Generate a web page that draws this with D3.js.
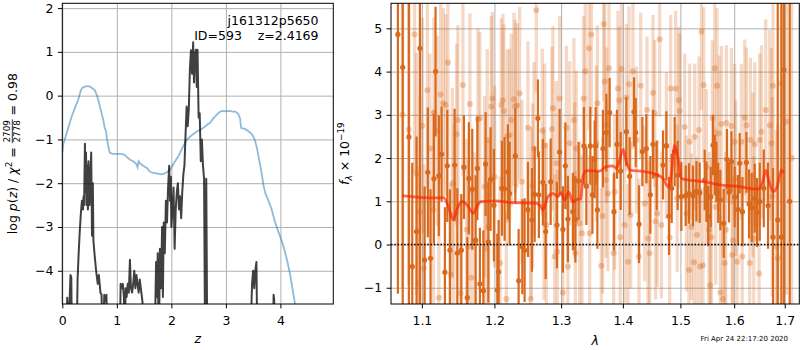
<!DOCTYPE html>
<html>
<head>
<meta charset="utf-8">
<script src="https://cdn.jsdelivr.net/npm/d3@7"></script>
<style>
  body { margin: 0; background: #fff; }
  svg { font-family: "DejaVu Sans", sans-serif; }
  text { white-space: pre; }
</style>
</head>
<body>
<script>
// ---------------- DATA ----------------
// left panel: redshift probability
const pzZ   = [0.00,0.07,0.09,0.12,0.15,0.165,0.18,0.26,0.28,0.30,0.32,0.34,0.36,0.38,0.39,0.40,0.415,0.425,0.435,0.445,0.46,0.47,0.48,0.50,0.515,0.53,0.545,0.56,0.57,0.59,0.62,0.65,0.67,0.70,0.72,0.74,0.77,0.79,0.81,0.83,
               1.05,1.07,1.09,1.11,1.13,1.145,1.16,1.18,1.20,1.22,1.24,1.26,1.28,1.30,1.32,1.34,1.36,1.38,1.40,1.42,1.45,1.47,1.49,
               1.69,1.72,1.735,1.75,1.77,1.79,1.81,1.83,1.845,1.86,1.88,1.90,1.92,1.94,1.96,1.975,1.99,2.00,2.02,2.04,2.06,2.08,2.10,2.12,2.14,2.16,2.18,2.20,2.22,2.24,2.26,2.28,2.30,2.32,2.34,2.36,2.38,2.40,2.415,2.43,2.45,2.465,2.48,2.50,2.52,2.54,2.56,2.58,2.60,2.62,2.64,2.66,
               3.44,3.48,3.50,3.52,3.54,3.56,3.58,3.86,3.875,3.885,3.90,4.97];
const pzLog = [-6,-6,-4.62,-5.2,-4.1,-4.15,-6,-6,-4.2,-3.6,-3.1,-2.7,-2.4,-2.6,-2.3,-2.5,-1.1,-2.2,-1.3,-2.5,-1.6,-2.6,-1.5,-2.5,-1.8,-1.3,-3.2,-2.0,-3.3,-3.6,-4.0,-4.3,-4.1,-4.5,-4.55,-6,-4.55,-4.7,-4.55,-6,
               -6,-4.3,-4.4,-4.3,-4.6,-6,-4.4,-4.6,-4.3,-4.5,-3.75,-4.4,-4.5,-4.3,-4.0,-4.4,-4.1,-4.3,-4.5,-4.2,-4.5,-4.7,-6,
               -6,-3.8,-4.6,-3.6,-6,-3.5,-4.4,-3.0,-4.6,-2.9,-3.6,-2.4,-2.9,-2.1,-1.6,-2.4,-1.85,-3.0,-2.6,-2.1,-3.5,-2.6,-2.2,-2.0,-2.6,-2.3,-2.8,-2.2,-1.8,-1.6,-0.9,-0.25,-0.7,-0.3,0.6,1.04,0.5,1.22,0.3,0.9,1.05,0.2,1.05,-0.5,-0.4,-1.5,-1.0,-1.6,-1.9,-6,-1.9,-6,
               -6,-4.3,-4.0,-4.4,-4.0,-3.8,-6,-6,-4.55,-4.65,-6,-6];
const chiZ   = [0.00,0.02,0.08,0.17,0.24,0.29,0.33,0.36,0.42,0.50,0.55,0.60,0.65,0.70,0.75,0.78,0.80,0.82,0.85,0.87,0.92,1.00,1.10,1.15,1.20,1.25,1.30,1.35,1.38,1.40,1.43,1.48,1.55,1.60,1.65,1.75,1.80,1.87,1.93,1.98,2.03,2.07,2.12,2.16,2.22,2.28,2.33,2.40,2.47,2.53,2.60,2.66,2.71,2.77,2.83,2.88,2.93,3.00,3.06,3.11,3.18,3.23,3.26,3.28,3.35,3.42,3.47,3.51,3.54,3.57,3.60,3.63,3.66,3.69,3.73,3.78,3.84,3.90,3.96,4.02,4.08,4.13,4.18,4.22,4.26,4.30,4.35];
const chiVal = [-1.30,-1.10,-0.86,-0.48,-0.25,-0.10,0.08,0.17,0.21,0.21,0.17,0.12,-0.05,-0.30,-0.55,-0.75,-0.80,-1.00,-1.20,-1.30,-1.33,-1.33,-1.33,-1.36,-1.42,-1.47,-1.50,-1.55,-1.64,-1.50,-1.55,-1.60,-1.65,-1.73,-1.76,-1.78,-1.80,-1.78,-1.74,-1.69,-1.58,-1.50,-1.40,-1.31,-1.15,-1.01,-0.95,-0.88,-0.82,-0.78,-0.72,-0.66,-0.62,-0.52,-0.44,-0.38,-0.35,-0.36,-0.35,-0.36,-0.37,-0.42,-0.52,-0.74,-0.76,-0.82,-0.87,-0.95,-1.05,-1.20,-1.40,-1.60,-1.80,-2.05,-2.25,-2.40,-2.60,-2.88,-3.10,-3.30,-3.55,-3.80,-4.10,-4.40,-4.70,-5.00,-5.50];
const zTicks = [0,1,2,3,4];
const pTicks = [-4,-3,-2,-1,0,1,2];

// right panel: spectrum
const darkWave = [1.0688,1.0750,1.0830,1.0874,1.0930,1.0974,1.1036,1.1079,1.1115,1.1160,1.1182,1.1226,1.1263,1.1308,1.1341,1.1376,1.1441,1.1478,1.1533,1.1569,1.1616,1.1638,1.1686,1.1733,1.1757,1.1793,1.1842,1.1874,1.1913,1.1945,1.1993,
  1.2042,1.2061,1.2109,1.2148,1.2196,1.2221,1.2305,1.2354,1.2409,1.2443,1.2493,1.2553,1.2594,1.2643,1.2658,1.2719,1.2761,1.2838,1.2935,1.2977,1.3028,1.3066,1.3106,1.3185,1.3224,1.3276,1.3361,1.3400,1.3464,1.3497,1.3534,1.3550,1.3578,
  1.3669,1.3725,1.3779,1.3851,1.3901,1.3963,1.4058,1.4114,1.4188,1.4217,1.4273,1.4331,1.4400,1.4469,1.4515,1.4580,1.4690,1.4750,1.4796,1.4844,1.4897,1.4951,1.5017,1.5096,1.5155,1.5228,1.5291,1.5351,
  1.5444,1.5476,1.5509,1.5556,1.5599,1.5631,1.5662,1.5696,1.5737,1.5800,1.5863,1.5901,1.5947,1.6010,1.6074,1.6106,1.6159,1.6237,1.6287,1.6340,1.6399,1.6444,1.6498,1.6578,1.6663,1.6763,1.6858,1.6933,1.6985,1.7102];
const darkFlux = [4.86,4.10,2.49,-0.51,0.30,4.54,-0.36,1.67,-0.32,1.52,4.00,1.59,2.09,-0.64,1.82,-0.13,1.84,-0.20,-0.13,1.79,-1.23,1.53,1.28,0.10,1.76,-0.91,-1.07,1.86,0.06,1.51,0.91,
  -1.05,-0.63,1.30,1.29,1.68,1.18,2.05,-0.84,-0.05,-0.13,0.81,0.57,1.16,2.92,1.15,1.44,0.30,1.45,0.45,2.14,0.35,1.82,0.59,0.76,0.58,1.47,2.28,1.35,2.28,1.15,1.97,2.28,0.80,
  2.22,2.59,3.05,0.76,2.32,1.70,2.61,1.58,3.07,2.59,0.47,2.15,2.22,1.15,2.32,1.60,1.84,2.28,0.66,1.30,2.15,1.60,1.11,1.13,1.18,1.13,1.23,1.20,
  1.49,1.22,0.66,1.10,2.30,1.84,1.68,1.20,1.03,0.49,1.97,1.21,1.92,1.10,0.81,1.88,0.76,1.90,0.94,0.85,1.07,0.74,0.99,1.30,0.90,0.17,0.57,0.17,4.04,1.00];
const darkErr  = [6.0,6.0,5.0,2.4,2.2,6.0,1.7,1.5,1.6,1.5,1.5,1.4,1.1,1.5,1.3,1.4,1.3,1.5,1.3,1.2,1.4,1.3,1.4,1.5,1.2,1.3,1.4,1.2,1.4,1.2,1.3,
  1.3,1.2,1.1,1.2,1.1,1.2,1.1,1.2,1.1,1.2,1.1,1.2,1.1,0.9,1.0,1.0,1.1,1.0,1.0,1.0,1.0,1.0,1.0,0.9,1.0,0.9,0.9,0.9,0.9,0.9,0.9,0.9,0.9,
  0.9,0.9,0.8,0.9,0.8,0.9,0.8,0.9,0.8,0.8,0.9,0.8,0.8,0.9,0.8,0.8,0.8,0.8,0.9,0.8,0.8,0.8,0.8,0.7,0.7,0.7,0.7,0.7,
  0.7,0.7,0.7,0.7,0.7,0.7,0.7,0.7,0.7,0.8,0.7,0.7,0.7,0.7,0.8,0.7,0.8,0.7,0.8,0.8,0.8,0.8,0.9,0.9,1.0,1.6,6.0,6.0,6.0,8.0];

const lightWave = [1.0748,1.0829,1.0904,1.0930,1.0948,1.0974,1.1006,1.1027,1.1072,1.1106,1.1152,1.1160,1.1205,1.1227,1.1250,1.1286,1.1318,1.1349,1.1386,1.1409,1.1431,1.1468,1.1486,1.1523,1.1555,1.1606,1.1627,1.1652,1.1672,1.1719,1.1765,1.1793,1.1860,1.1874,1.1898,1.1917,1.1955,1.1970,1.2003,
  1.2082,1.2100,1.2123,1.2138,1.2173,1.2187,1.2221,1.2246,1.2285,1.2305,1.2332,1.2369,1.2403,1.2493,1.2533,1.2544,1.2563,1.2583,1.2619,1.2710,1.2735,1.2746,1.2771,1.2858,1.2873,1.2900,1.2926,1.2941,1.2977,1.3028,1.3082,1.3106,1.3133,1.3201,1.3213,1.3225,1.3239,1.3292,1.3329,1.3356,1.3381,1.3442,1.3453,1.3481,1.3562,1.3578,
  1.3643,1.3664,1.3681,1.3697,1.3717,1.3730,1.3751,1.3768,1.3846,1.3863,1.3918,1.3938,1.3954,1.3975,1.4030,1.4059,1.4085,1.4102,1.4131,1.4170,1.4229,1.4273,1.4302,1.4371,1.4411,1.4428,1.4457,1.4515,1.4545,1.4559,1.4588,1.4632,1.4662,1.4750,1.4808,1.4826,1.4915,1.4942,1.4969,1.4987,
  1.5078,1.5109,1.5155,1.5168,1.5199,1.5247,1.5260,1.5302,1.5338,1.5360,1.5383,1.5412,1.5425,1.5475,1.5524,1.5546,1.5569,1.5587,1.5631,1.5649,1.5674,1.5711,1.5737,1.5756,1.5781,1.5819,1.5838,1.5851,1.5947,1.5962,1.5977,1.6010,1.6029,1.6058,1.6139,1.6155,1.6204,1.6237,
  1.6301,1.6315,1.6366,1.6380,1.6399,1.6484,1.6498,1.6532,1.6617,1.6697,1.6731,1.6747,1.6763,1.6832,1.6858,1.6933,1.7035,1.7143];
const lightFlux = [3.00,2.66,4.86,1.63,-0.90,0.75,2.75,-0.55,3.57,2.22,0.80,3.06,2.63,-1.23,3.47,3.27,3.23,4.21,-0.69,1.42,0.68,2.55,2.88,-1.13,3.69,0.34,-0.05,3.25,-0.77,0.03,2.90,2.92,1.34,-0.09,2.42,0.41,3.19,3.38,1.57,
  -0.43,3.23,3.34,3.09,-1.26,2.51,2.53,2.88,3.36,3.20,3.22,3.50,1.45,2.70,-1.26,0.72,1.36,2.22,5.42,2.63,0.72,2.29,0.45,2.67,3.15,-0.28,1.88,-0.17,3.38,-1.11,2.70,-0.51,2.34,2.88,1.49,-0.20,2.22,0.49,0.26,3.38,4.01,4.54,0.26,4.86,2.34,3.27,
  -0.49,0.66,5.10,3.77,1.49,2.76,1.18,4.08,-0.20,1.22,3.61,3.34,0.17,4.06,0.45,3.40,-0.40,3.71,0.68,4.01,2.42,-0.28,3.67,0.95,3.11,0.14,-0.20,3.51,3.03,0.53,0.72,4.75,0.45,2.29,0.16,3.61,3.61,1.07,3.34,3.09,
  2.72,0.72,-0.59,2.38,0.41,-0.41,2.49,0.22,2.65,-0.51,4.92,-0.48,3.69,1.80,0.34,-0.94,0.17,2.92,4.08,0.87,3.67,2.57,-1.11,2.79,-1.26,-0.43,0.34,2.81,2.74,-0.24,0.10,2.38,1.53,-0.40,2.38,-0.28,2.94,2.76,
  -0.43,2.42,1.61,0.14,2.32,-0.67,2.42,2.61,3.11,2.76,2.34,1.11,3.67,-0.05,-0.32,3.73,2.84,2.00];
const lightErr = [4.0,3.6,3.2,2.8,2.7,2.7,2.5,2.4,2.3,2.2,2.3,2.2,2.2,2.2,2.1,2.2,2.1,2.2,2.1,2.2,2.1,2.1,2.2,2.1,2.1,2.1,2.0,2.1,2.0,2.1,2.1,2.0,2.1,2.0,2.1,2.0,2.1,2.0,2.1,
  2.0,2.0,2.0,2.0,2.0,2.0,2.0,2.0,2.0,2.0,1.9,2.0,1.9,2.0,1.9,2.0,1.9,2.0,1.9,1.9,2.0,1.9,1.9,1.9,1.9,1.9,1.9,1.9,1.9,1.9,1.9,1.9,1.9,1.9,1.8,1.9,1.8,1.9,1.8,1.9,1.8,1.9,1.8,1.9,1.8,1.8,
  1.8,1.8,1.8,1.8,1.8,1.8,1.8,1.8,1.8,1.8,1.8,1.7,1.8,1.8,1.8,1.7,1.8,1.8,1.7,1.8,1.7,1.8,1.7,1.8,1.7,1.8,1.7,1.8,1.7,1.8,1.7,1.8,1.7,1.7,1.8,1.7,1.8,1.7,1.7,1.8,
  1.7,1.8,1.7,1.8,1.7,1.8,1.7,1.8,1.7,1.8,1.8,1.8,1.8,1.8,1.8,1.8,1.8,1.8,1.8,1.8,1.8,1.8,1.8,1.8,1.8,1.8,1.8,1.8,1.8,1.8,1.8,1.8,1.8,1.8,1.8,1.8,1.8,1.8,
  1.9,1.9,1.9,1.9,1.9,2.0,2.0,2.0,2.1,2.2,2.2,2.3,2.4,2.7,3.1,3.6,4.0,5.0];

const modelWave = [1.0744,1.0900,1.1100,1.1294,1.1360,1.1422,1.1480,1.1546,1.1620,1.1700,1.1750,1.1803,1.2017,1.2246,1.2593,1.2680,1.2719,1.2796,1.2873,1.2950,1.3003,1.3055,1.3118,1.3186,1.3255,1.3308,1.3345,1.3399,1.3615,1.3725,1.3834,1.3891,1.3946,1.4001,1.4058,1.4126,1.4341,1.4574,1.4690,1.4750,1.4796,1.4839,1.4897,1.4957,1.5018,1.5108,1.5444,1.5724,1.6106,1.6464,1.6563,1.6617,1.6683,1.6763,1.6844,1.6933,1.6980];
const modelFlux = [1.13,1.10,1.08,1.08,0.85,0.57,0.85,1.00,0.90,0.72,0.88,0.99,1.01,0.97,0.96,0.90,0.80,1.11,1.18,1.11,1.20,1.03,1.21,0.98,1.05,1.05,1.57,1.71,1.70,1.80,1.82,1.76,1.95,2.20,1.92,1.72,1.69,1.62,1.53,1.38,1.32,1.64,2.30,2.00,1.53,1.50,1.45,1.38,1.34,1.28,1.48,1.72,1.46,1.22,1.33,1.72,1.65];

const lamTicks = [1.1,1.2,1.3,1.4,1.5,1.6,1.7];
const fTicks = [-1,0,1,2,3,4,5];

const fieldName = "j161312p5650";
const idText = "ID=593    z=2.4169";
const dateText = "Fri Apr 24 22:17:20 2020";

// ---------------- DRAW ----------------
const FS = 12.5;
const svg = d3.select("body").append("svg").attr("width", 800).attr("height", 350);
const orange = "#d9691c";

const L = {x0: 62.3, x1: 333.3, y0: 3.3, y1: 304};
const R = {x0: 391, x1: 799.3, y0: 3.3, y1: 304};

const xZ = d3.scaleLinear().domain([0, 4.97]).range([L.x0, L.x1]);
const yP = d3.scaleLinear().domain([-4.76, 2.11]).range([L.y1, L.y0]);
const xL = d3.scaleLog().domain([1.06, 1.73]).range([R.x0, R.x1]);
const yF = d3.scaleLinear().domain([-1.376, 5.58]).range([R.y1, R.y0]);

const defs = svg.append("defs");
defs.append("clipPath").attr("id", "clipL").append("rect")
  .attr("x", L.x0).attr("y", L.y0).attr("width", L.x1 - L.x0).attr("height", L.y1 - L.y0);
defs.append("clipPath").attr("id", "clipR").append("rect")
  .attr("x", R.x0).attr("y", R.y0).attr("width", R.x1 - R.x0).attr("height", R.y1 - R.y0);

function grid(P, xs, ys, xt, yt) {
  const g = svg.append("g");
  g.append("g").attr("transform", `translate(0,${P.y1})`)
    .call(d3.axisBottom(xs).tickValues(xt).tickSize(-(P.y1 - P.y0)).tickFormat(""))
    .call(s => s.select(".domain").remove())
    .selectAll("line").attr("stroke", "#b0b0b0").attr("stroke-width", 1);
  g.append("g").attr("transform", `translate(${P.x0},0)`)
    .call(d3.axisLeft(ys).tickValues(yt).tickSize(-(P.x1 - P.x0)).tickFormat(""))
    .call(s => s.select(".domain").remove())
    .selectAll("line").attr("stroke", "#b0b0b0").attr("stroke-width", 1);
}
function axes(P, xs, ys, xt, yt, xf, yf) {
  const gx = svg.append("g").attr("transform", `translate(0,${P.y1})`)
    .call(d3.axisBottom(xs).tickValues(xt).tickSize(4.4).tickPadding(4.4).tickFormat(xf));
  gx.select(".domain").remove();
  gx.selectAll("text").attr("font-size", FS).attr("font-family", "DejaVu Sans").attr("dy", "0.98em").attr("fill", "#000");
  gx.selectAll("line").attr("stroke", "#000").attr("stroke-width", 1);
  const gy = svg.append("g").attr("transform", `translate(${P.x0},0)`)
    .call(d3.axisLeft(ys).tickValues(yt).tickSize(4.4).tickPadding(4.4).tickFormat(yf));
  gy.select(".domain").remove();
  gy.selectAll("text").attr("font-size", FS).attr("font-family", "DejaVu Sans").attr("fill", "#000");
  gy.selectAll("line").attr("stroke", "#000").attr("stroke-width", 1);
  svg.append("rect").attr("x", P.x0).attr("y", P.y0).attr("width", P.x1 - P.x0).attr("height", P.y1 - P.y0)
    .attr("fill", "none").attr("stroke", "#000").attr("stroke-width", 1);
}

// ----- left panel -----
grid(L, xZ, yP, zTicks, pTicks);
const gL = svg.append("g").attr("clip-path", "url(#clipL)");
const chiPts = chiZ.map((z, i) => [z, chiVal[i]]);
const pzPts = pzZ.map((z, i) => [z, pzLog[i]]);
gL.append("path").datum(chiPts)
  .attr("d", d3.line().x(d => xZ(d[0])).y(d => yP(d[1])))
  .attr("fill", "none").attr("stroke", "#1f77b4").attr("stroke-opacity", 0.5).attr("stroke-width", 1.8);
gL.append("path").datum(pzPts)
  .attr("d", d3.line().x(d => xZ(d[0])).y(d => yP(d[1])))
  .attr("fill", "none").attr("stroke", "#000").attr("stroke-opacity", 0.75).attr("stroke-width", 2)
  .attr("stroke-linejoin", "round");
axes(L, xZ, yP, zTicks, pTicks, d3.format("d"), d3.format("d"));

svg.append("text").attr("x", 318.5).attr("y", 25).attr("text-anchor", "end")
  .attr("font-size", FS).text(fieldName);
svg.append("text").attr("x", 318.5).attr("y", 39.5).attr("text-anchor", "end")
  .attr("font-size", FS).text(idText);

// x label
svg.append("text").attr("x", (L.x0 + L.x1) / 2).attr("y", 343).attr("text-anchor", "middle")
  .attr("font-size", FS).attr("font-style", "italic").text("z");

// y label (rotated, with fraction)
{
  const g = svg.append("g").attr("transform", `translate(17,${(L.y0 + L.y1) / 2}) rotate(-90)`);
  const t1 = g.append("text").attr("font-size", FS);
  t1.append("tspan").text("log ");
  t1.append("tspan").attr("font-style", "italic").text("p");
  t1.append("tspan").text("(");
  t1.append("tspan").attr("font-style", "italic").text("z");
  t1.append("tspan").text(") / ");
  t1.append("tspan").attr("font-style", "italic").text("χ");
  t1.append("tspan").attr("font-size", 8.8).attr("dy", -5).text("2");
  t1.append("tspan").attr("dy", 5).text(" = ");
  const w1 = t1.node().getComputedTextLength();
  const num = g.append("text").attr("font-size", 8.8).attr("text-anchor", "middle").text("2709");
  const den = g.append("text").attr("font-size", 8.8).attr("text-anchor", "middle").text("2778");
  const fw = Math.max(num.node().getComputedTextLength(), den.node().getComputedTextLength()) + 1.5;
  const t3 = g.append("text").attr("font-size", FS).text(" = 0.98");
  const w3 = t3.node().getComputedTextLength();
  const total = w1 + fw + w3;
  const x0 = -total / 2;
  t1.attr("x", x0);
  const fc = x0 + w1 + fw / 2;
  num.attr("x", fc).attr("y", -6.6);
  den.attr("x", fc).attr("y", 2.6);
  g.append("line").attr("x1", fc - fw / 2).attr("x2", fc + fw / 2).attr("y1", -4.7).attr("y2", -4.7)
    .attr("stroke", "#000").attr("stroke-width", 0.8);
  t3.attr("x", x0 + w1 + fw);
}

// ----- right panel -----
grid(R, xL, yF, lamTicks, fTicks);
const gR = svg.append("g").attr("clip-path", "url(#clipR)");
const lightPts = lightWave.map((w, i) => ({w, f: lightFlux[i], e: lightErr[i]}));
const darkPts = darkWave.map((w, i) => ({w, f: darkFlux[i], e: darkErr[i]}));

gR.selectAll(".lbar").data(lightPts).join("line")
  .attr("x1", d => xL(d.w)).attr("x2", d => xL(d.w))
  .attr("y1", d => yF(d.f - d.e)).attr("y2", d => yF(d.f + d.e))
  .attr("stroke", orange).attr("stroke-opacity", 0.25).attr("stroke-width", 3.3);
gR.selectAll(".ldot").data(lightPts).join("circle")
  .attr("cx", d => xL(d.w)).attr("cy", d => yF(d.f)).attr("r", 3)
  .attr("fill", orange).attr("fill-opacity", 0.35);

gR.selectAll(".dbar").data(darkPts).join("line")
  .attr("x1", d => xL(d.w)).attr("x2", d => xL(d.w))
  .attr("y1", d => yF(d.f - d.e)).attr("y2", d => yF(d.f + d.e))
  .attr("stroke", orange).attr("stroke-width", 2.2);
gR.selectAll(".ddot").data(darkPts).join("circle")
  .attr("cx", d => xL(d.w)).attr("cy", d => yF(d.f)).attr("r", 2.6)
  .attr("fill", orange);

gR.append("line").attr("x1", R.x0).attr("x2", R.x1).attr("y1", yF(0)).attr("y2", yF(0))
  .attr("stroke", "#000").attr("stroke-width", 1.5).attr("stroke-dasharray", "1.5,1.8");

const modelPts = modelWave.map((w, i) => [w, modelFlux[i]]);
gR.append("path").datum(modelPts)
  .attr("d", d3.line().x(d => xL(d[0])).y(d => yF(d[1])).curve(d3.curveMonotoneX))
  .attr("fill", "none").attr("stroke", "#ff2200").attr("stroke-opacity", 0.65).attr("stroke-width", 2.8)
  .attr("stroke-linejoin", "round");

axes(R, xL, yF, lamTicks, fTicks, d3.format(".1f"), d3.format("d"));

svg.append("text").attr("x", (R.x0 + R.x1) / 2).attr("y", 345).attr("text-anchor", "middle")
  .attr("font-size", FS).attr("font-style", "italic").text("λ");

{
  const g = svg.append("g").attr("transform", `translate(349,${(R.y0 + R.y1) / 2}) rotate(-90)`);
  const t = g.append("text").attr("font-size", FS).attr("text-anchor", "middle");
  t.append("tspan").attr("font-style", "italic").text("f");
  t.append("tspan").attr("font-style", "italic").attr("font-size", 8.8).attr("dy", 2.5).text("λ");
  t.append("tspan").attr("dy", -2.5).text(" × 10");
  t.append("tspan").attr("font-size", 8.8).attr("dy", -5).text("−19");
}

svg.append("text").attr("x", 700.5).attr("y", 340.5).attr("font-size", 7).text(dateText);
</script>
</body>
</html>
